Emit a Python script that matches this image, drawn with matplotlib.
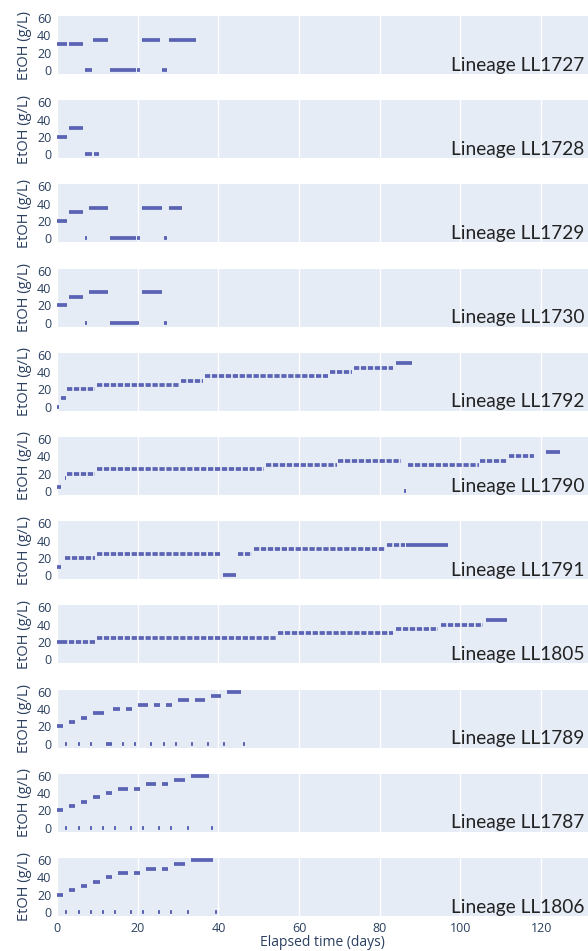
import matplotlib
matplotlib.use("Agg")
import matplotlib.pyplot as plt

# EtOH step levels per lineage: (start day, end day, EtOH g/L)
# "solid" = continuous readings, "broken" = intermittent readings
lineages = ['LL1727', 'LL1728', 'LL1729', 'LL1730', 'LL1792', 'LL1790',
            'LL1791', 'LL1805', 'LL1789', 'LL1787', 'LL1806']

solid = {
    'LL1727': [(0, 2.6, 30), (3.0, 6.5, 30), (7.0, 8.6, 0), (9.0, 12.6, 35),
               (13.1, 19.6, 0), (19.9, 20.5, 0), (21.1, 25.6, 35),
               (26.1, 27.2, 0), (27.7, 34.4, 35)],
    'LL1728': [(0, 2.6, 20), (3.0, 6.5, 30), (7.0, 8.6, 0), (9.1, 10.4, 0)],
    'LL1729': [(0, 2.6, 20), (3.0, 6.5, 30), (7.0, 7.5, 0), (8.0, 12.6, 35),
               (13.1, 19.6, 0), (19.9, 20.6, 0), (21.1, 25.9, 35),
               (26.4, 27.3, 0), (27.8, 31.1, 35)],
    'LL1730': [(0, 2.6, 20), (3.0, 6.5, 30), (7.0, 7.5, 0), (8.0, 12.6, 35),
               (13.1, 20.2, 0), (21.1, 25.9, 35), (26.4, 27.3, 0)],
    'LL1792': [(0, 0.5, 0), (1.0, 2.2, 10), (84.0, 88.0, 50)],
    'LL1790': [(0, 1.0, 5), (1.9, 2.2, 15), (85.9, 86.5, 0), (121.3, 124.6, 45)],
    'LL1791': [(0, 1.0, 10), (41.2, 44.3, 0), (86.5, 96.8, 35)],
    'LL1805': [(0, 1.3, 20), (106.2, 111.5, 45)],
    'LL1789': [(0, 1.6, 20), (3.0, 4.5, 25), (6.0, 7.5, 30), (9.0, 11.6, 35),
               (14.0, 15.5, 40), (17.1, 18.6, 40), (20.1, 22.6, 45),
               (24.0, 25.6, 45), (27.0, 28.6, 45), (30.1, 32.6, 50),
               (34.1, 36.6, 50), (38.1, 40.6, 55), (42.1, 45.6, 60),
               (2.0, 2.5, 0), (5.1, 5.6, 0), (8.1, 8.6, 0), (12.1, 13.6, 0),
               (16.2, 16.7, 0), (19.1, 19.6, 0), (23.1, 23.6, 0), (26.2, 26.7, 0),
               (29.2, 29.7, 0), (33.2, 33.7, 0), (37.2, 37.7, 0), (41.2, 41.7, 0),
               (46.2, 46.7, 0)],
    'LL1787': [(0, 1.6, 20), (3.0, 4.5, 25), (6.0, 7.5, 30), (9.0, 10.6, 35),
               (12.1, 13.6, 40), (15.0, 17.6, 45), (19.0, 20.6, 45),
               (22.1, 24.6, 50), (26.0, 27.6, 50), (29.1, 31.7, 55),
               (33.1, 37.7, 60),
               (2.0, 2.5, 0), (5.1, 5.6, 0), (8.1, 8.6, 0), (11.1, 11.6, 0),
               (14.1, 14.6, 0), (18.1, 18.6, 0), (21.1, 21.6, 0), (25.1, 25.6, 0),
               (28.1, 28.6, 0), (32.2, 32.7, 0), (38.1, 38.6, 0)],
    'LL1806': [(0, 1.6, 20), (3.0, 4.5, 25), (6.0, 7.5, 30), (9.0, 10.6, 35),
               (12.1, 13.6, 40), (15.0, 17.6, 45), (19.0, 20.6, 45),
               (22.1, 24.6, 50), (26.0, 27.6, 50), (29.1, 31.7, 55),
               (33.1, 38.6, 60),
               (2.0, 2.5, 0), (5.1, 5.6, 0), (8.1, 8.6, 0), (11.1, 11.6, 0),
               (14.1, 14.6, 0), (18.1, 18.6, 0), (21.1, 21.6, 0), (25.1, 25.6, 0),
               (28.1, 28.6, 0), (32.2, 32.7, 0), (39.1, 39.6, 0)],
}

broken = {
    'LL1792': [(2.6, 9.4, 20), (9.8, 30.2, 25), (30.8, 36.2, 30),
               (36.6, 67.2, 35), (67.6, 73.1, 40), (73.7, 83.3, 45)],
    'LL1790': [(2.6, 9.4, 20), (9.8, 51.4, 25), (51.9, 69.3, 30),
               (69.7, 85.3, 35), (87.0, 104.5, 30), (104.9, 111.6, 35),
               (112.1, 118.2, 40)],
    'LL1791': [(1.9, 9.4, 20), (9.8, 40.4, 25), (44.9, 48.3, 25),
               (48.8, 81.4, 30), (81.9, 86.3, 35)],
    'LL1805': [(1.3, 9.4, 20), (9.8, 54.4, 25), (54.7, 83.3, 30),
               (84.0, 94.5, 35), (95.1, 105.6, 40)],
}

xticks = [0, 20, 40, 60, 80, 100, 120]
yticks = [0, 20, 40, 60]

bar_c = '#5b64b4'
txt_c = '#2a3f5f'

fig, axs = plt.subplots(nrows=11, ncols=1, figsize=(5.88, 9.51), dpi=100, sharex=True)
plt.subplots_adjust(left=57/588, right=1.0, top=1-16/951, bottom=1-916/951, hspace=0.45)

for ax, name in zip(axs, lineages):
    ax.set_facecolor('#e5ecf6')
    for s in ax.spines.values():
        s.set_visible(False)
    ax.set_xlim(0, 131.6)
    ax.set_ylim(-4.6, 62.3)
    ax.set_xticks(xticks)
    ax.set_yticks(yticks)
    ax.grid(axis='x', color='white', lw=1.0)
    ax.set_axisbelow(True)
    ax.tick_params(length=0, pad=4, labelsize=9, labelcolor=txt_c)
    for lab in ax.get_yticklabels():
        lab.set_family('Open Sans')
    seg = solid.get(name, [])
    if seg:
        ax.hlines([v for a, b, v in seg], [a for a, b, v in seg], [b for a, b, v in seg],
                  color=bar_c, lw=2.7, capstyle='butt')
    seg = broken.get(name, [])
    if seg:
        lc = ax.hlines([v for a, b, v in seg], [a for a, b, v in seg], [b for a, b, v in seg],
                       color=bar_c, lw=2.7)
        lc.set_linestyle((0, (1.4, 0.45)))
        lc.set_capstyle('butt')
    ax.set_ylabel('EtOH (g/L)', fontsize=10.5, color=txt_c, family='Open Sans', labelpad=4)
    ax.text(0.993, 0.06, f'Lineage {name}', transform=ax.transAxes, ha='right', va='baseline',
            fontsize=13.8, color='#222222', family='Lato')

for lab in axs[-1].get_xticklabels():
    lab.set_family('Open Sans')
fig.text((57 + 588) / 2 / 588, 1 - 943 / 951, 'Elapsed time (days)', ha='center', va='center',
         fontsize=10, color=txt_c, family='Open Sans')

plt.savefig('out.png', dpi=100, facecolor='w')
